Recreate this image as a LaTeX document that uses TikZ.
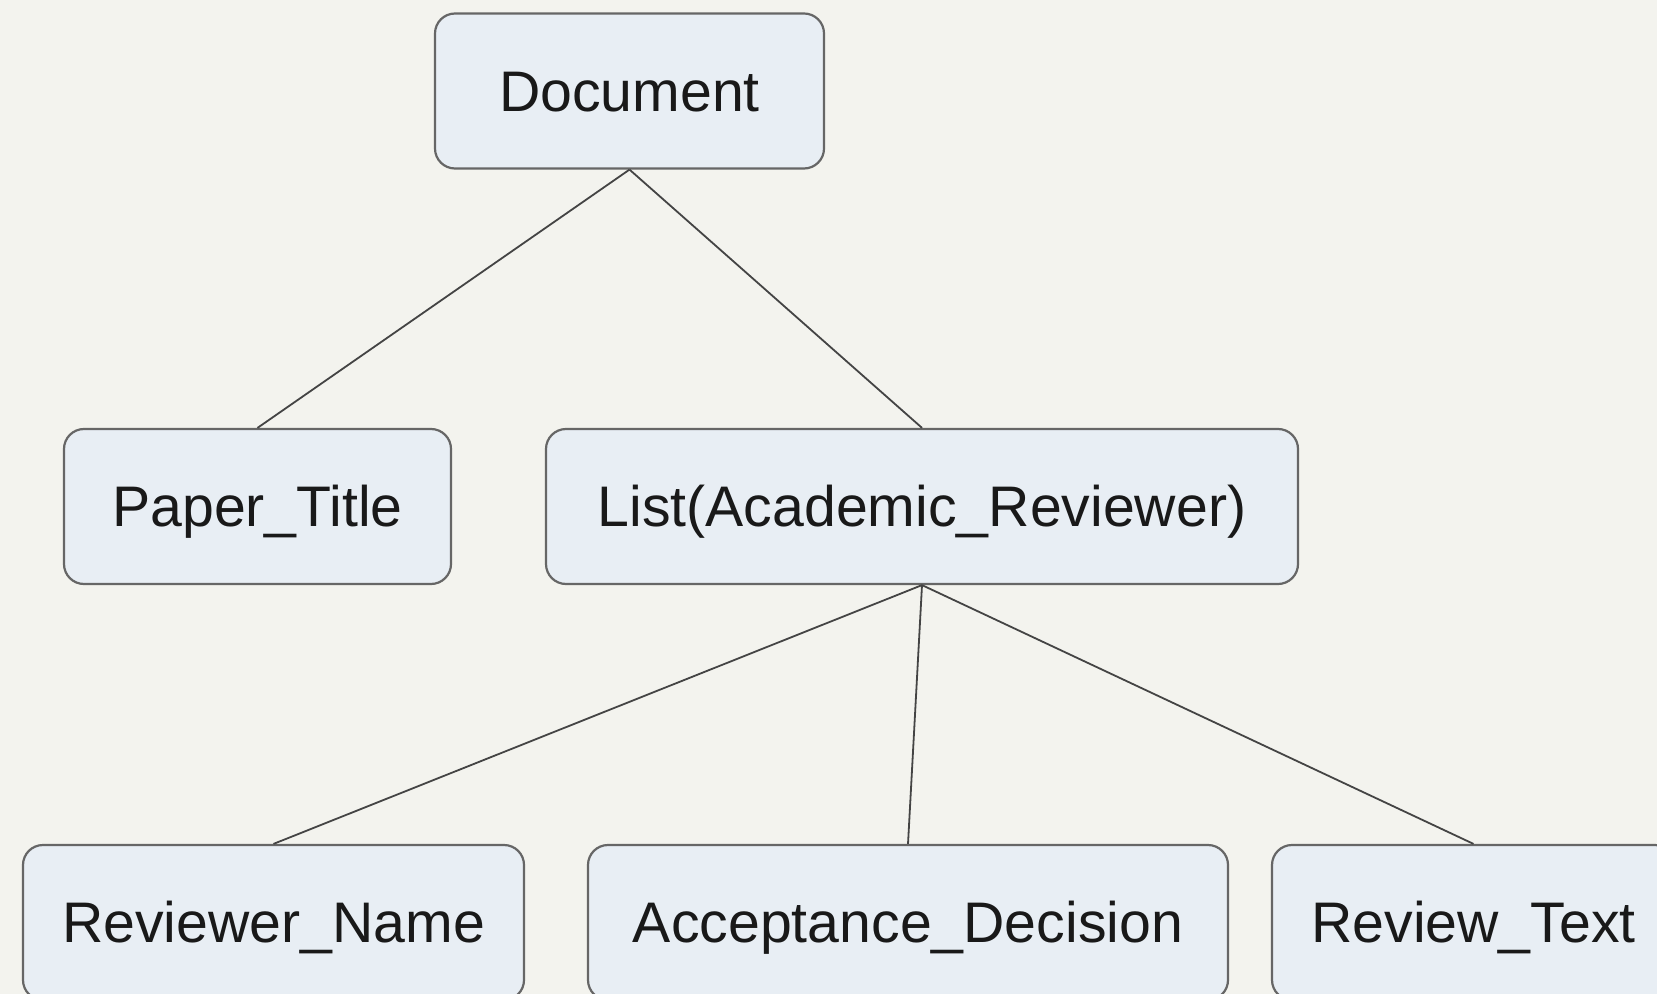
\documentclass[tikz,border=0pt]{standalone}
\usepackage{fontspec}
\setmainfont{Liberation Sans}
\definecolor{bgc}{HTML}{F3F3EE}
\definecolor{boxfill}{HTML}{E8EEF4}
\definecolor{boxdraw}{HTML}{666666}
\definecolor{edgec}{HTML}{444444}
\begin{document}
\begin{tikzpicture}[x=0.5pt,y=-0.5pt,
  box/.style={draw=boxdraw, fill=boxfill, line width=1.1pt, rounded corners=10pt,
    minimum height=77.5pt, inner sep=0pt, text height=20.4pt, text depth=0pt,
    font=\fontsize{28.6pt}{32pt}\selectfont, text=black!90},
  edge/.style={draw=edgec, line width=0.9pt}]
\fill[bgc] (0,0) rectangle (1657,994);
\useasboundingbox (0,0) rectangle (1657,994);
\clip (0,0) rectangle (1657,994);
\node[box, minimum width=194.5pt] (doc) at (629.5,91) {Document};
\node[box, minimum width=193.5pt] (title) at (257.5,506.5) {Paper\_Title};
\node[box, minimum width=376pt] (list) at (922,506.5) {List(Academic\_Reviewer)};
\node[box, minimum width=250.5pt] (name) at (273.5,922.5) {Reviewer\_Name};
\node[box, minimum width=320pt] (dec) at (908,922.5) {Acceptance\_Decision};
\node[box, minimum width=201.5pt] (text) at (1473.5,922.5) {Review\_Text};
\draw[edge] (doc.south) -- (title.north);
\draw[edge] (doc.south) -- (list.north);
\draw[edge] (list.south) -- (name.north);
\draw[edge] (list.south) -- (dec.north);
\draw[edge] (list.south) -- (text.north);
\end{tikzpicture}
\end{document}
